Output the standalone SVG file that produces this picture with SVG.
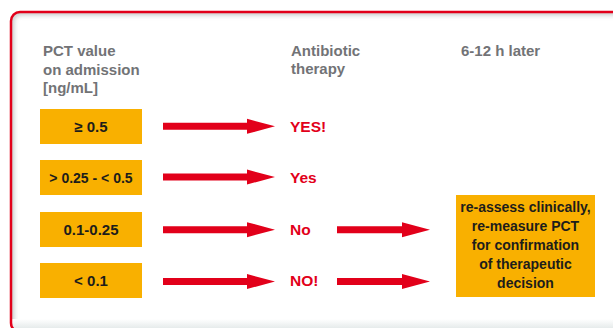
<svg xmlns="http://www.w3.org/2000/svg" width="613" height="328" viewBox="0 0 613 328">
  <defs>
    <clipPath id="inner">
      <rect x="11" y="12" width="620" height="320" rx="9"/>
    </clipPath>
    <filter id="blur" x="-10%" y="-10%" width="120%" height="120%">
      <feGaussianBlur stdDeviation="2.5"/>
    </filter>
    <linearGradient id="bottomShade" x1="0" y1="0" x2="0" y2="1">
      <stop offset="0" stop-color="#ffffff"/>
      <stop offset="1" stop-color="#e6ebeb"/>
    </linearGradient>
    <style>
      .hdr { font-family: "Liberation Sans", Arial, sans-serif; font-weight: bold; font-size: 15px; fill: #727376; }
      .box { fill: #F9B000; }
      .bt { font-family: "Liberation Sans", Arial, sans-serif; font-weight: bold; font-size: 14px; fill: #1D1D1B; text-anchor: middle; }
      .bl { font-size: 15px; }
      .red { font-family: "Liberation Sans", Arial, sans-serif; font-weight: bold; font-size: 15.5px; fill: #E2001A; }
      .arrow { fill: #E2001A; }
    </style>
  </defs>

  <rect width="613" height="328" fill="#ffffff"/>

  <!-- frame with inner shadow -->
  <g id="frame">
    <g clip-path="url(#inner)">
      <rect x="11" y="12" width="620" height="320" rx="9" fill="none" stroke="#9aa0a0" stroke-width="6" filter="url(#blur)" opacity="0.6"/>
      <rect x="0" y="319" width="613" height="9" fill="url(#bottomShade)"/>
    </g>
    <rect x="11" y="12" width="620" height="320" rx="9" fill="none" stroke="#E2001A" stroke-width="2.5"/>
  </g>

  <!-- headers -->
  <g id="header-pct">
    <text class="hdr" x="43" y="56">PCT value</text>
    <text class="hdr" x="43" y="75">on admission</text>
    <text class="hdr" x="43" y="93">[ng/mL]</text>
  </g>
  <g id="header-antibiotic">
    <text class="hdr" x="291" y="56">Antibiotic</text>
    <text class="hdr" x="291" y="74">therapy</text>
  </g>
  <g id="header-later">
    <text class="hdr" x="461" y="56">6-12 h later</text>
  </g>

  <!-- PCT value boxes -->
  <g id="pct1">
    <rect class="box" x="40" y="109" width="102" height="35"/>
    <text class="bt bl" x="91" y="131.5">≥ 0.5</text>
  </g>
  <g id="pct2">
    <rect class="box" x="40" y="160" width="102" height="35"/>
    <text class="bt" x="91" y="182.5">&gt; 0.25 - &lt; 0.5</text>
  </g>
  <g id="pct3">
    <rect class="box" x="40" y="212" width="102" height="35"/>
    <text class="bt bl" x="91" y="234.5">0.1-0.25</text>
  </g>
  <g id="pct4">
    <rect class="box" x="40" y="263" width="102" height="35"/>
    <text class="bt bl" x="91" y="285.5">&lt; 0.1</text>
  </g>

  <!-- therapy labels -->
  <g id="ab1"><text class="red" x="290" y="132">YES!</text></g>
  <g id="ab2"><text class="red" x="290" y="183">Yes</text></g>
  <g id="ab3"><text class="red" x="290" y="235">No</text></g>
  <g id="ab4"><text class="red" x="290" y="286">NO!</text></g>

  <!-- later box -->
  <g id="later">
    <rect class="box" x="456" y="195" width="139" height="102"/>
    <text class="bt" x="525.5" y="212">re-assess clinically,</text>
    <text class="bt" x="525.5" y="231">re-measure PCT</text>
    <text class="bt" x="525.5" y="250">for confirmation</text>
    <text class="bt" x="525.5" y="269">of therapeutic</text>
    <text class="bt" x="525.5" y="288">decision</text>
  </g>

  <!-- connectors -->
  <g id="connectors">
    <polygon class="arrow" points="163,122.8 247,122.8 247,118.8 275,126.3 247,133.8 247,129.8 163,129.8"/>
    <polygon class="arrow" points="163,173.5 247,173.5 247,169.5 275,177 247,184.5 247,180.5 163,180.5"/>
    <polygon class="arrow" points="163,226.2 247,226.2 247,222.2 275,229.7 247,237.2 247,233.2 163,233.2"/>
    <polygon class="arrow" points="163,278 247,278 247,274 275,281.5 247,289 247,285 163,285"/>
    <polygon class="arrow" points="337,226.2 402,226.2 402,222.2 430,229.7 402,237.2 402,233.2 337,233.2"/>
    <polygon class="arrow" points="337,278 402,278 402,274 430,281.5 402,289 402,285 337,285"/>
  </g>
</svg>
